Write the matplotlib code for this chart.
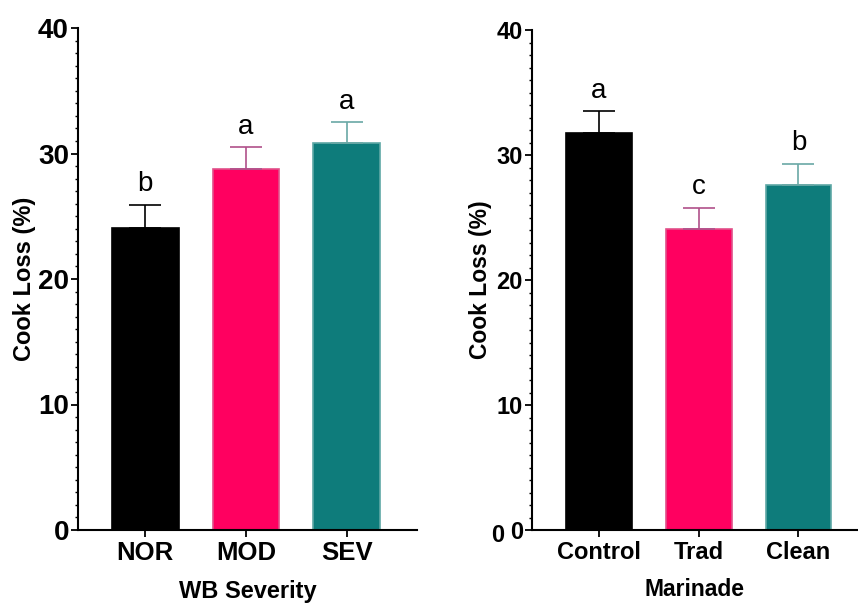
import matplotlib
matplotlib.use("Agg")
import matplotlib.pyplot as plt
from matplotlib.ticker import MultipleLocator

plt.rcParams['font.family'] = ['Liberation Sans', 'DejaVu Sans']

# Left panel data
wb_cats = ["NOR", "MOD", "SEV"]
wb_means = [24.1, 28.8, 30.8]
wb_err = [1.8, 1.7, 1.7]
wb_letters = ["b", "a", "a"]

# Right panel data
mar_cats = ["Control", "Trad", "Clean"]
mar_means = [31.8, 24.1, 27.6]
mar_err = [1.7, 1.7, 1.7]
mar_letters = ["a", "c", "b"]

fill_colors = ["#000000", "#FF0060", "#0E7C7B"]
edge_colors = ["#000000", "#E0508A", "#5FA8A6"]
err_colors = ["#000000", "#B0508A", "#6AA8A6"]

fig = plt.figure(figsize=(8.58, 6.04), dpi=100)
W, H = 858, 604

def panel(rect, xlim, cats, means, errs, letters, xlabel, tick_fs, xtick_fs, lab_fs,
          letter_fs, ylab_x, xlab_pad):
    ax = fig.add_axes(rect)
    x = list(range(len(cats)))
    for i in x:
        ax.bar(i, means[i], width=0.66, color=fill_colors[i], edgecolor=edge_colors[i],
               linewidth=1.2, zorder=2)
        ax.errorbar(i, means[i], yerr=[[0], [errs[i]]], fmt="none", ecolor=err_colors[i],
                    elinewidth=1.2, capsize=11.5, capthick=1.2, zorder=3)
        ax.text(i, means[i] + errs[i] + 0.6, letters[i], ha="center", va="bottom",
                fontsize=letter_fs, color="black")
    ax.set_ylim(0, 40)
    ax.set_xlim(*xlim)
    ax.yaxis.set_major_locator(MultipleLocator(10))
    ax.yaxis.set_minor_locator(MultipleLocator(1))
    ax.set_xticks(x)
    ax.set_xticklabels(cats, fontsize=xtick_fs, fontweight="bold")
    for lab in ax.get_yticklabels():
        lab.set_fontweight("bold")
        lab.set_fontsize(tick_fs)
    ax.tick_params(axis="y", which="major", length=5, width=1.3, direction="out", pad=1.5)
    ax.tick_params(axis="y", which="minor", length=2.5, width=1.0, direction="out")
    ax.tick_params(axis="x", which="major", length=5, width=1.3, direction="out", pad=3)
    for s in ["top", "right"]:
        ax.spines[s].set_visible(False)
    for s in ["left", "bottom"]:
        ax.spines[s].set_linewidth(1.5)
    ax.set_xlabel(xlabel, fontsize=lab_fs, fontweight="bold", labelpad=xlab_pad)
    ax.set_ylabel("Cook Loss (%)", fontsize=lab_fs, fontweight="bold")
    ax.yaxis.set_label_coords(ylab_x, 0.5)
    return ax

# left axes: x 78..417, y 28..530
axL = panel([78 / W, (H - 530) / H, (417 - 78) / W, (530 - 28) / H], (-0.668, 2.698),
            wb_cats, wb_means, wb_err, wb_letters, "WB Severity",
            20, 18.5, 17, 20, -0.125, 11)
# right axes: x 532..858, y 30..530
axR = panel([532 / W, (H - 530) / H, (858 - 532) / W, (530 - 30) / H], (-0.672, 2.597),
            mar_cats, mar_means, mar_err, mar_letters, "Marinade",
            17, 17, 16.5, 20, -0.123, 10)
axR.text(-0.086, -0.011, "0", transform=axR.transAxes, ha="right", va="center",
         fontsize=17, fontweight="bold")

fig.savefig("out.png", dpi=100)
